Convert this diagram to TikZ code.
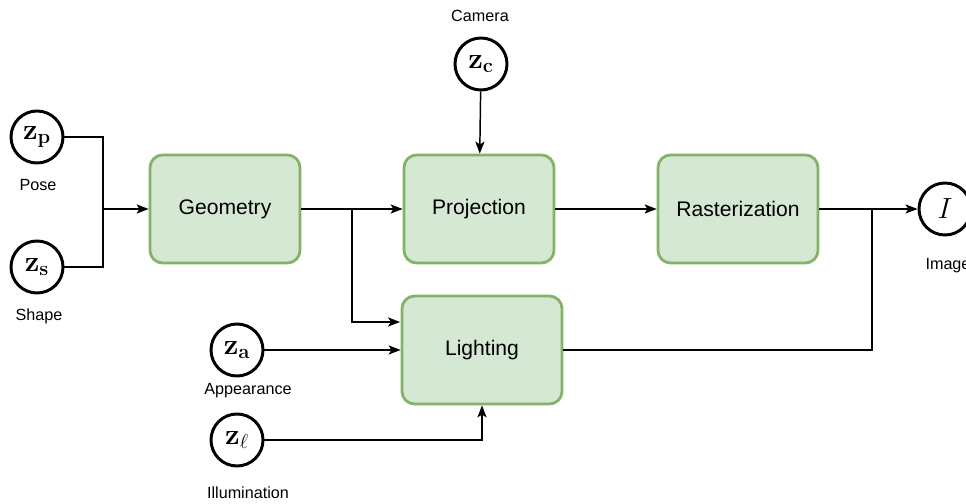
\documentclass[tikz,border=0pt]{standalone}
\usepackage{amsmath,amssymb}
\usepackage[no-math]{fontspec}
\setmainfont{Liberation Sans}
\usepackage{xcolor}
\usepackage{tikz}
\usetikzlibrary{shapes.geometric, arrows.meta, positioning}
\definecolor{leaf}{HTML}{D5E8D4}
\definecolor{moss}{HTML}{82B366}

\begin{document}
\begin{tikzpicture}[
  x=0.025cm, y=-0.025cm,
  block/.style={rectangle, draw=moss, line width=2pt, rounded corners=9pt, fill=leaf, minimum width=3.75cm, minimum height=2.7cm, align=center, font=\fontsize{15}{18}\selectfont},
  latent/.style={circle, draw, line width=2.1pt, fill=white, minimum size=1.3cm, inner sep=0pt, font=\fontsize{20}{22}\selectfont},
  tag/.style={font=\fontsize{11.5}{13}\selectfont},
  rel/.style={-{Stealth[length=8.5pt, width=6.5pt, inset=2pt]}, line width=1.05pt},
  wire/.style={line width=1.05pt}
]
\useasboundingbox (0,0) rectangle (966,504);

\node[block] (geo) at (225,209) {Geometry};
\node[block] (proj) at (479,209) {Projection};
\node[block, minimum width=4cm] (rast) at (738,209) {Rasterization};
\node[block, minimum width=4cm] (light) at (482,350) {Lighting};

\node[latent] (zp) at (37,137) {$\mathbf{z}_{\mathbf{p}}$};
\node[latent] (zs) at (37,267) {$\mathbf{z}_{\mathbf{s}}$};
\node[latent] (zc) at (481,64) {$\mathbf{z}_{\mathbf{c}}$};
\node[latent] (za) at (237,350) {$\mathbf{z}_{\mathbf{a}}$};
\node[latent] (zl) at (237,440) {$\mathbf{z}_{\ell}$};
\node[latent] (img) at (945,209) {$I$};

\node[tag] (tpose) at (38,185) {Pose};
\node[tag] (tshape) at (39,316) {Shape};
\node[tag] (tcam) at (480,16) {Camera};
\node[tag] (tapp) at (248,391) {Appearance};
\node[tag] (till) at (248,493) {Illumination};
\node[tag] (timg) at (948,266) {Image};

\coordinate (jin) at (103,209);
\coordinate (jgeo) at (352,209);
\coordinate (lin) at (400,322);
\coordinate (jout) at (872,209);

\draw[wire] (zp) -| (jin);
\draw[wire] (zs) -| (jin);
\draw[rel] (jin) -- (geo);
\draw[rel] (geo) -- (proj);
\draw[rel] (jgeo) |- (lin);
\draw[rel] (zc) -- (proj);
\draw[rel] (proj) -- (rast);
\draw[rel] (rast) -- (img);
\draw[rel] (za) -- (light);
\draw[rel] (zl) -| (light);
\draw[wire] (light) -| (jout);
\end{tikzpicture}
\end{document}
